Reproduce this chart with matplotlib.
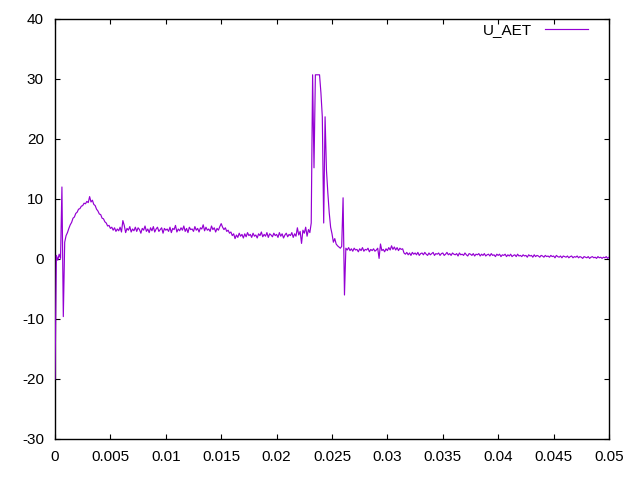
import matplotlib
matplotlib.use("Agg")
import matplotlib.pyplot as plt
import numpy as np
from matplotlib.ticker import MultipleLocator, FormatStrFormatter

# sample step, seconds
dt = 0.000125

# U_AET samples, 10 per row
u_aet = [
    -20.0, 0.6, -0.2, 0.8, 0.1, 12.0, -9.6, 2.8, 3.9, 4.4,
    5.1, 5.7, 6.1, 6.8, 7.0, 7.6, 7.8, 8.3, 8.4, 8.8,
    8.9, 9.3, 9.2, 9.6, 9.4, 10.4, 9.5, 9.8, 9.1, 8.9,
    8.3, 8.0, 7.5, 7.4, 6.8, 6.7, 6.2, 6.0, 5.5, 5.6,
    5.1, 5.3, 4.8, 5.2, 4.6, 5.0, 4.7, 5.3, 4.5, 6.4,
    5.6, 4.4, 5.1, 4.8, 5.4, 4.5, 5.0, 4.7, 5.3, 4.6,
    5.2, 4.9, 4.3, 5.1, 4.8, 5.5, 4.6, 5.0, 4.4, 5.2,
    4.7, 5.4, 4.5, 5.0, 5.3, 4.6, 4.9, 5.2, 4.3, 5.1,
    4.8, 5.0, 4.6, 5.3, 4.4, 5.1, 4.9, 5.6, 4.5, 5.0,
    4.7, 5.2, 4.8, 5.5, 4.6, 5.1, 4.4, 5.3, 4.9, 5.0,
    4.6, 5.4, 4.8, 5.1, 4.5, 5.2, 5.0, 5.7, 4.7, 5.3,
    4.8, 5.0, 4.6, 5.5, 4.9, 5.2, 4.5, 5.1, 4.8, 5.4,
    5.9, 5.3, 4.9, 5.2, 4.6, 4.8, 4.3, 4.5, 3.9, 4.2,
    3.4, 4.0, 3.6, 4.3, 3.8, 4.1, 3.5, 4.2, 3.7, 4.4,
    3.9, 4.1, 3.6, 4.3, 3.8, 4.0, 3.5, 4.2, 3.9, 4.5,
    3.7, 4.1, 3.8, 4.4, 3.6, 4.2, 4.0, 3.7, 4.3, 3.9,
    4.1, 3.6, 4.4, 3.8, 4.2, 3.5, 4.0, 4.3, 3.7, 4.1,
    3.9, 4.4, 3.6, 4.2, 3.8, 5.2, 4.0, 4.6, 2.6, 4.8,
    4.3, 5.3, 3.8, 4.9, 4.4, 6.0, 30.7, 15.2, 30.7, 30.7,
    30.7, 30.7, 27.7, 23.7, 6.0, 23.7, 14.8, 11.0, 7.7, 5.3,
    4.2, 2.8, 3.4, 2.5, 2.2, 2.0, 1.8, 2.1, 10.2, -6.0,
    1.8, 1.5, 1.9, 1.4, 1.7, 1.3, 1.8, 1.5, 1.6, 1.2,
    1.7, 1.4, 1.9, 1.3, 1.6, 1.5, 1.8, 1.2, 1.6, 1.4,
    1.7, 1.3, 1.5, 1.8, 0.1, 2.5, 1.4, 1.6, 1.2, 1.7,
    1.4, 1.9, 1.5, 2.2, 1.6, 2.0, 1.5, 1.9, 1.4, 1.8,
    1.6, 1.7, 1.0, 0.8, 1.1, 0.7, 1.0, 0.6, 1.1, 0.8,
    1.0, 0.7, 1.1, 0.6, 0.9, 1.0, 0.7, 1.1, 0.8, 0.6,
    1.0, 0.7, 0.9, 1.1, 0.6, 0.9, 0.8, 1.0, 0.6, 0.9,
    1.0, 0.6, 0.8, 1.1, 0.7, 0.9, 0.6, 1.0, 0.8, 0.7,
    0.9, 0.5, 1.0, 0.7, 0.8, 0.6, 1.0, 0.7, 0.5, 0.9,
    0.8, 0.6, 0.9, 0.5, 0.8, 0.7, 0.9, 0.5, 0.8, 0.6,
    0.9, 0.5, 0.7, 0.8, 0.5, 0.9, 0.6, 0.7, 0.4, 0.8,
    0.6, 0.8, 0.4, 0.7, 0.6, 0.8, 0.4, 0.7, 0.5, 0.8,
    0.4, 0.6, 0.7, 0.4, 0.8, 0.5, 0.6, 0.4, 0.7, 0.5,
    0.6, 0.3, 0.7, 0.5, 0.6, 0.3, 0.7, 0.4, 0.6, 0.5,
    0.3, 0.6, 0.5, 0.3, 0.6, 0.4, 0.5, 0.3, 0.6, 0.4,
    0.5, 0.2, 0.6, 0.4, 0.3, 0.5, 0.2, 0.5, 0.4, 0.3,
    0.5, 0.2, 0.4, 0.5, 0.2, 0.4, 0.3, 0.5, 0.2, 0.4,
    0.3, 0.1, 0.4, 0.3, 0.2, 0.4, 0.1, 0.3, 0.4, 0.2,
    0.3, 0.1, 0.4, 0.2, 0.3, 0.1, 0.3, 0.2, 0.4, 0.1,
    0.3,
]
t = np.arange(len(u_aet)) * dt

plt.rcParams['font.family'] = ['Liberation Sans', 'DejaVu Sans']
plt.rcParams['font.size'] = 11

fig = plt.figure(figsize=(6.4, 4.8), dpi=100)
ax = fig.add_axes([55/640, 41/480, 554/640, 420/480])

ax.plot(t, u_aet, color='#9400d3', lw=0.85, label='U_AET', zorder=3)

ax.set_xlim(0, 0.05)
ax.set_ylim(-30, 40)
ax.xaxis.set_major_locator(MultipleLocator(0.005))
ax.yaxis.set_major_locator(MultipleLocator(10))
ax.xaxis.set_major_formatter(FormatStrFormatter('%g'))
ax.yaxis.set_major_formatter(FormatStrFormatter('%g'))
ax.tick_params(direction='in', length=3.5, width=0.8, top=True, right=True, pad=8)
for s in ax.spines.values():
    s.set_linewidth(1.0)

ax.legend(loc='upper right', bbox_to_anchor=(588/640, 457/480),
          bbox_transform=fig.transFigure, frameon=False, markerfirst=False,
          handlelength=2.8, handletextpad=0.85, borderpad=0, borderaxespad=0)

fig.savefig('out.png', dpi=100)
